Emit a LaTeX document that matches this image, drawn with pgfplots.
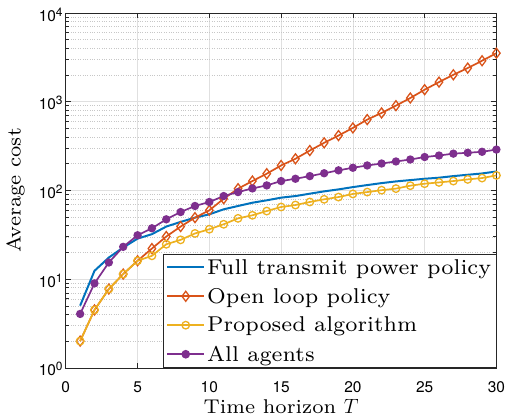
\documentclass[border=0pt]{standalone}
\usepackage{fontspec}
\setmainfont{lmroman7-regular.otf}[ItalicFont=lmroman7-italic.otf, BoldFont=lmroman7-bold.otf]
\usepackage{pgfplots}
\pgfplotsset{compat=1.18}
\newfontfamily\tickfont{TeX Gyre Heros}
\definecolor{mblue}{rgb}{0,0.447,0.741}
\definecolor{morange}{rgb}{0.85,0.325,0.098}
\definecolor{myellow}{rgb}{0.929,0.694,0.125}
\definecolor{mpurple}{rgb}{0.494,0.184,0.556}
\newcommand{\expo}[1]{\raisebox{5pt}{\fontsize{12}{12}\selectfont #1}}
\begin{document}
\begin{tikzpicture}
\begin{axis}[
  scale only axis, width=432pt, height=356pt,
  ymode=log, xmin=0, xmax=30, ymin=1, ymax=10000,
  xtick={0,5,10,15,20,25,30},
  ytick={1,10,100,1000,10000},
  yticklabels={10\expo{0},10\expo{1},10\expo{2},10\expo{3},10\expo{4}},
  tick label style={font=\tickfont\fontsize{15.5}{17}\selectfont},
  xticklabel style={inner sep=0pt, anchor=north, yshift=-14pt},
  yticklabel style={inner sep=0pt, anchor=east, xshift=-3pt, yshift=-1.5pt},
  /pgf/number format/assume math mode=true,
  xmajorgrids, ymajorgrids, yminorgrids,
  major grid style={black!12, line width=0.6pt},
  minor grid style={black!22, dotted, line width=0.5pt},
  tick align=inside,
  axis line style={black!85, line width=0.6pt},
  tick style={black!85, line width=0.6pt},
  major tick length=5pt, minor tick length=3pt,
  xlabel={Time horizon $T$}, ylabel={Average cost},
  label style={font=\fontsize{20}{24}\selectfont},
  xlabel style={at={([yshift=-46pt]axis description cs:0.5,0)}, anchor=base},
  ylabel style={at={([xshift=-50.5pt]axis description cs:0,0.5)}, anchor=center},
  legend style={at={(1,0)}, anchor=south east, font=\fontsize{21.5}{24}\selectfont,
    draw=black!85, fill=white, cells={anchor=west}, row sep=8.5pt, inner sep=3pt},
  legend image code/.code={\draw[mark repeat=2,mark phase=2,#1,line width=2pt] plot coordinates {(0cm,0cm) (0.65cm,0cm) (1.3cm,0cm)};},
]
\addplot[draw=mblue, line width=2pt, mark=none] coordinates {
(1,5.02)(2,12.4)(3,17.5)(4,22.7)(5,28.6)(6,32.1)(7,39.1)(8,44.1)(9,49.3)(10,53.7)
(11,61.2)(12,66.7)(13,72.6)(14,77.3)(15,82.8)(16,86.3)(17,91.8)(18,97.5)(19,102.6)(20,108.9)
(21,114.8)(22,120.8)(23,126.2)(24,130.6)(25,135.2)(26,139.0)(27,144.9)(28,150.0)(29,155.2)(30,163.3)};
\addlegendentry{Full transmit power policy}
\addplot[morange, line width=1.7pt, mark=diamond, mark size=5pt, mark options={line width=1.3pt, fill=white}] coordinates {
(1,2.0)(2,4.49)(3,7.73)(4,11.4)(5,16.1)(6,22.1)(7,30.2)(8,39.1)(9,49.3)(10,59.6)
(11,80.5)(12,104.5)(13,127.4)(14,154.2)(15,191.0)(16,227.0)(17,281.2)(18,343.6)(19,415.0)(20,505.8)
(21,628.1)(22,746.4)(23,901.6)(24,1099)(25,1365)(26,1663)(27,2009)(28,2393)(29,2891)(30,3524)};
\addlegendentry{Open loop policy}
\addplot[myellow, line width=1.7pt, mark=o, mark size=3.8pt, mark options={line width=1.3pt}] coordinates {
(1,2.0)(2,4.49)(3,7.73)(4,11.4)(5,16.1)(6,18.3)(7,24.7)(8,27.7)(9,32.7)(10,36.5)
(11,41.5)(12,48.4)(13,52.4)(14,58.5)(15,65.0)(16,68.4)(17,74.0)(18,79.3)(19,84.1)(20,91.2)
(21,95.7)(22,100.5)(23,104.7)(24,113.0)(25,118.9)(26,123.0)(27,127.4)(28,133.0)(29,137.7)(30,147.6)};
\addlegendentry{Proposed algorithm}
\addplot[mpurple, line width=1.7pt, mark=*, mark size=3.3pt] coordinates {
(1,4.05)(2,8.95)(3,15.4)(4,23.1)(5,31.2)(6,37.4)(7,47.2)(8,57.0)(9,66.7)(10,74.0)
(11,86.3)(12,95.7)(13,105.2)(14,113.8)(15,127.4)(16,135.2)(17,144.9)(18,156.0)(19,168.3)(20,179.9)
(21,191.0)(22,200.9)(23,211.8)(24,222.8)(25,237.7)(26,247.2)(27,259.4)(28,265.5)(29,272.3)(30,288.4)};
\addlegendentry{All agents}
\end{axis}
\path ([xshift=-66pt,yshift=-52pt]current axis.south west) rectangle ([xshift=7pt,yshift=13pt]current axis.north east);
\end{tikzpicture}
\end{document}
